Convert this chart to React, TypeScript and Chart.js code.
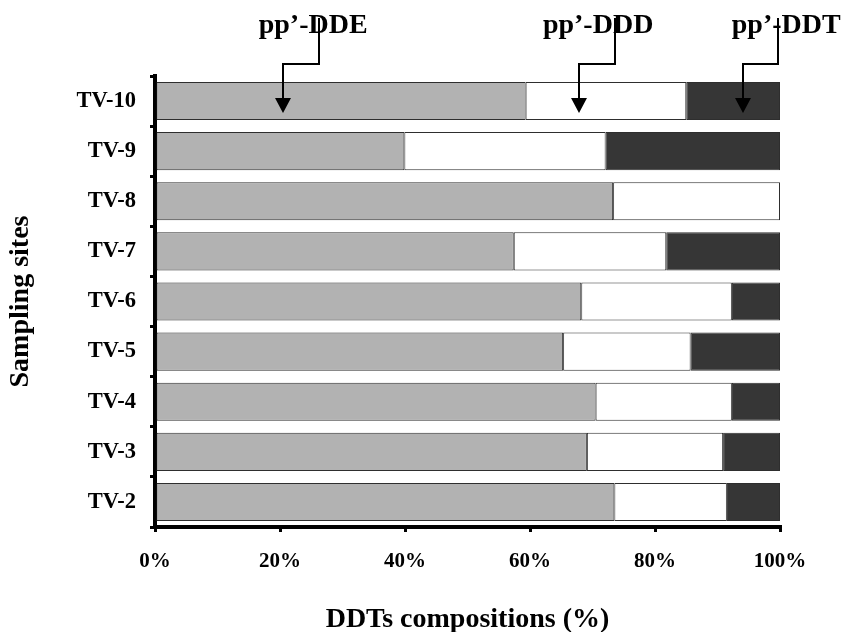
import React, { useEffect, useRef } from "react";
import { Chart, registerables } from "chart.js";

Chart.register(...registerables);

const sites = ["TV-10", "TV-9", "TV-8", "TV-7", "TV-6", "TV-5", "TV-4", "TV-3", "TV-2"];
const seriesNames = ["pp’-DDE", "pp’-DDD", "pp’-DDT"];
const ddePct = [59.3, 39.9, 73.3, 57.4, 68.2, 65.3, 70.5, 69.1, 73.5];
const dddPct = [25.7, 32.2, 26.7, 24.4, 24.1, 20.4, 21.8, 21.8, 18.0];
const ddtPct = [15.0, 27.9, 0, 18.2, 7.7, 14.3, 7.7, 9.1, 8.5];
const xTickValues = [0, 20, 40, 60, 80, 100];

const FONT = "'Liberation Serif', 'Times New Roman', serif";

const arrowPlugin = {
  id: "seriesArrows",
  afterDraw(chart: any) {
    const { ctx, scales } = chart;
    const xs = scales.x;
    const ys = scales.y;
    // annotation anchors, in % units of the x axis
    const tips = [20.5, 67.8, 94.1];
    const elbows = [26.2, 73.6, 99.7];
    const textCenters = [25.3, 70.9, 101.0];
    const rowY = ys.getPixelForValue(0);
    const tipY = rowY + 12;
    const elbowY = chart.chartArea.top - 12;
    ctx.save();
    ctx.fillStyle = "#000";
    ctx.strokeStyle = "#000";
    ctx.font = `bold 28px ${FONT}`;
    ctx.textAlign = "center";
    ctx.textBaseline = "alphabetic";
    seriesNames.forEach((name, i) => {
      ctx.fillText(name, xs.getPixelForValue(textCenters[i]), 33);
    });
    ctx.lineWidth = 2;
    seriesNames.forEach((_, i) => {
      const xe = Math.round(xs.getPixelForValue(elbows[i]));
      const xt = Math.round(xs.getPixelForValue(tips[i]));
      ctx.beginPath();
      ctx.moveTo(xe, 18);
      ctx.lineTo(xe, elbowY);
      ctx.lineTo(xt, elbowY);
      ctx.lineTo(xt, tipY - 12);
      ctx.stroke();
      ctx.beginPath();
      ctx.moveTo(xt, tipY);
      ctx.lineTo(xt - 8, tipY - 15);
      ctx.lineTo(xt + 8, tipY - 15);
      ctx.closePath();
      ctx.fill();
    });
    ctx.restore();
  },
};

export default function App() {
  const ref = useRef<HTMLCanvasElement | null>(null);

  useEffect(() => {
    if (!ref.current) return;
    const chart = new Chart(ref.current, {
      type: "bar",
      data: {
        labels: sites,
        datasets: [
          { label: seriesNames[0], data: ddePct, backgroundColor: "#b2b2b2" },
          { label: seriesNames[1], data: dddPct, backgroundColor: "#ffffff" },
          { label: seriesNames[2], data: ddtPct, backgroundColor: "#363636" },
        ].map((d) => ({
          ...d,
          borderColor: "#2e2e2e",
          borderWidth: 1,
          borderSkipped: false,
          barPercentage: 0.76,
          categoryPercentage: 1,
        })),
      },
      options: {
        indexAxis: "y",
        responsive: false,
        animation: false,
        layout: { padding: { top: 76, right: 64, left: 0, bottom: 0 } },
        plugins: {
          legend: { display: false },
          tooltip: { enabled: false },
        },
        scales: {
          x: {
            type: "linear",
            stacked: true,
            min: 0,
            max: 100,
            afterBuildTicks: (scale: any) => {
              scale.ticks = xTickValues.map((v) => ({ value: v }));
            },
            afterFit: (scale: any) => {
              scale.height = 105;
            },
            ticks: {
              color: "#000",
              padding: 17,
              font: { family: FONT, size: 21, weight: "bold" },
              callback: (v: any) => `${v}%`,
            },
            grid: {
              drawOnChartArea: false,
              drawTicks: true,
              tickLength: 5,
              color: "#000",
              lineWidth: 3,
            },
            border: { display: true, color: "#000", width: 4 },
            title: {
              display: true,
              text: "DDTs compositions (%)",
              color: "#000",
              font: { family: FONT, size: 28, weight: "bold", lineHeight: 0.85 },
              padding: { top: 0, bottom: 0 },
            },
          },
          y: {
            type: "category",
            stacked: true,
            afterFit: (scale: any) => {
              scale.width = 155;
            },
            ticks: {
              color: "#000",
              padding: 14,
              font: { family: FONT, size: 22.5, weight: "bold" },
            },
            grid: {
              drawOnChartArea: false,
              drawTicks: true,
              tickLength: 5,
              color: "#000",
              lineWidth: 3,
              offset: true,
            },
            border: { display: true, color: "#000", width: 4 },
            title: {
              display: true,
              text: "Sampling sites",
              color: "#000",
              font: { family: FONT, size: 28, weight: "bold", lineHeight: 0.85 },
              padding: { top: 9, bottom: 0 },
            },
          },
        },
      },
      plugins: [arrowPlugin],
    } as any);
    return () => chart.destroy();
  }, []);

  return (
    <div style={{ position: "absolute", left: 0, top: 0, width: 844, height: 632, background: "#fff" }}>
      <canvas ref={ref} width={844} height={632} style={{ display: "block" }} />
    </div>
  );
}
